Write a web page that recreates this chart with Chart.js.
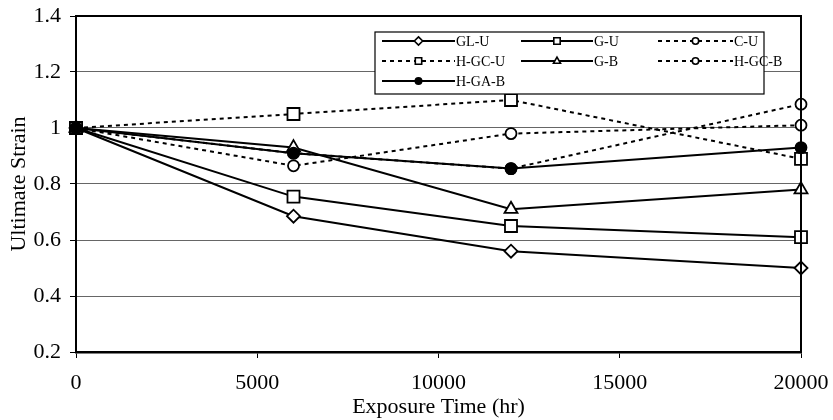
<!DOCTYPE html>
<html>
<head>
<meta charset="utf-8">
<script src="https://cdn.jsdelivr.net/npm/chart.js@4.4.0/dist/chart.umd.min.js"></script>
<style>
  html, body { margin: 0; padding: 0; background: #fff; }
  #wrap { width: 833px; height: 420px; }
</style>
</head>
<body>
<div id="wrap"><canvas id="strain-chart"></canvas></div>
<script>
// exposure times (hr)
const hours = [0, 6000, 12000, 20000];

// ultimate strain (normalised) per specimen
const glU   = [1, 0.685, 0.56, 0.5];
const gU    = [1, 0.755, 0.65, 0.61];
const cU    = [1, 0.91, 0.855, 1.085];
const hgcU  = [1, 1.05, 1.1, 0.89];
const gB    = [1, 0.93, 0.71, 0.78];
const hgcB  = [1, 0.865, 0.98, 1.01];
const hgaB  = [1, 0.91, 0.855, 0.93];

const yTickLabels = ['0.2', '0.4', '0.6', '0.8', '1', '1.2', '1.4'];
const xTickLabels = ['0', '5000', '10000', '15000', '20000'];

const pts = arr => arr.map((v, i) => ({ x: hours[i], y: v }));

const makeSet = (label, arr, style, radius, dashed, filled, order) => ({
    label: label,
    data: pts(arr),
    order: order,
    clip: false,
    borderColor: '#000',
    borderWidth: 2,
    borderDash: dashed ? [4, 4] : [],
    pointStyle: style,
    pointRadius: radius,
    pointBorderWidth: 1.8,
    pointBorderColor: '#000',
    pointBackgroundColor: filled ? '#000' : '#fff',
    tension: 0,
    fill: false
});

const datasets = [
    makeSet('GL-U', glU, 'rectRot', 6.5, false, false, 3),
    makeSet('G-U', gU, 'rect', 8.5, false, false, 3),
    makeSet('C-U', cU, 'circle', 5.5, true, false, 4),
    makeSet('H-GC-U', hgcU, 'rect', 8.5, true, false, 3),
    makeSet('G-B', gB, 'triangle', 7.5, false, false, 1),
    makeSet('H-GC-B', hgcB, 'circle', 5.5, true, false, 2),
    makeSet('H-GA-B', hgaB, 'circle', 5.5, false, true, 0)
];

const serif = 'Liberation Serif';

function drawShape(ctx, style, r, x, y) {
    if (style === 'circle') {
        ctx.arc(x, y, r, 0, Math.PI * 2);
    } else if (style === 'rect') {
        ctx.rect(x - r, y - r, 2 * r, 2 * r);
    } else if (style === 'rectRot') {
        ctx.moveTo(x, y - r * 1.3); ctx.lineTo(x + r * 1.3, y);
        ctx.lineTo(x, y + r * 1.3); ctx.lineTo(x - r * 1.3, y);
        ctx.closePath();
    } else if (style === 'triangle') {
        ctx.moveTo(x, y - r * 1.2); ctx.lineTo(x + r * 1.1, y + r * 0.7);
        ctx.lineTo(x - r * 1.1, y + r * 0.7);
        ctx.closePath();
    }
}

// frame round the plot area + legend box inside it
const framePlugin = {
    id: 'frame',
    afterDatasetsDraw(chart) {
        const ctx = chart.ctx;
        const a = chart.chartArea;
        ctx.save();
        ctx.strokeStyle = '#000';
        ctx.lineWidth = 2;
        ctx.beginPath();
        ctx.moveTo(a.left, a.top);
        ctx.lineTo(a.right, a.top);
        ctx.lineTo(a.right, a.bottom);
        ctx.stroke();

        // legend
        const bx = 375, by = 32, bw = 389, bh = 62;
        ctx.fillStyle = '#fff';
        ctx.fillRect(bx, by, bw, bh);
        ctx.lineWidth = 1.2;
        ctx.strokeRect(bx, by, bw, bh);
        const cols = [382, 521, 658];
        const rows = [41, 61, 81];
        const lens = [73, 72, 75];
        ctx.font = '14px "' + serif + '"';
        ctx.textBaseline = 'middle';
        chart.data.datasets.forEach((ds, i) => {
            const x = cols[i % 3], y = rows[Math.floor(i / 3)];
            const len = lens[i % 3];
            ctx.strokeStyle = '#000';
            ctx.lineWidth = 2;
            ctx.setLineDash(ds.borderDash);
            ctx.beginPath();
            ctx.moveTo(x, y);
            ctx.lineTo(x + len, y);
            ctx.stroke();
            ctx.setLineDash([]);
            ctx.fillStyle = ds.pointBackgroundColor;
            ctx.lineWidth = 1.6;
            ctx.beginPath();
            drawShape(ctx, ds.pointStyle, 3.2, x + len / 2, y);
            ctx.fill();
            ctx.stroke();
            ctx.fillStyle = '#000';
            ctx.fillText(ds.label, x + len + 1, y + 1);
        });
        ctx.restore();
    }
};

new Chart(document.getElementById('strain-chart'), {
    type: 'line',
    data: { datasets: datasets },
    plugins: [framePlugin],
    options: {
        responsive: true,
        maintainAspectRatio: false,
        animation: false,
        layout: { padding: { top: 16, right: 32, left: 0, bottom: 0 } },
        plugins: {
            legend: { display: false },
            tooltip: { enabled: false }
        },
        scales: {
            x: {
                type: 'linear',
                min: 0,
                max: 20000,
                afterFit: s => { s.height = 68; s.paddingLeft = 0; s.paddingRight = 0; },
                ticks: {
                    stepSize: 5000,
                    color: '#000',
                    font: { family: serif, size: 22 },
                    padding: 12,
                    maxRotation: 0,
                    callback: (v, i) => xTickLabels[i]
                },
                grid: { drawOnChartArea: false, tickLength: 6, tickColor: '#000', lineWidth: 1 },
                border: { color: '#000', width: 2.5 },
                title: {
                    display: true,
                    text: 'Exposure Time (hr)',
                    color: '#000',
                    font: { family: serif, size: 22 },
                    padding: { top: 0, bottom: 0 }
                }
            },
            y: {
                min: 0.2,
                max: 1.4,
                afterFit: s => { s.width = 76; s.paddingTop = 0; s.paddingBottom = 0; },
                ticks: {
                    stepSize: 0.2,
                    color: '#000',
                    font: { family: serif, size: 22 },
                    padding: 9,
                    callback: (v, i) => yTickLabels[i]
                },
                grid: { color: '#666', lineWidth: 1, tickLength: 6, tickColor: '#000' },
                border: { color: '#000', width: 2 },
                title: {
                    display: true,
                    text: 'Ultimate Strain',
                    color: '#000',
                    font: { family: serif, size: 22 },
                    padding: { top: 6, bottom: 0 }
                }
            }
        }
    }
});
</script>
</body>
</html>
